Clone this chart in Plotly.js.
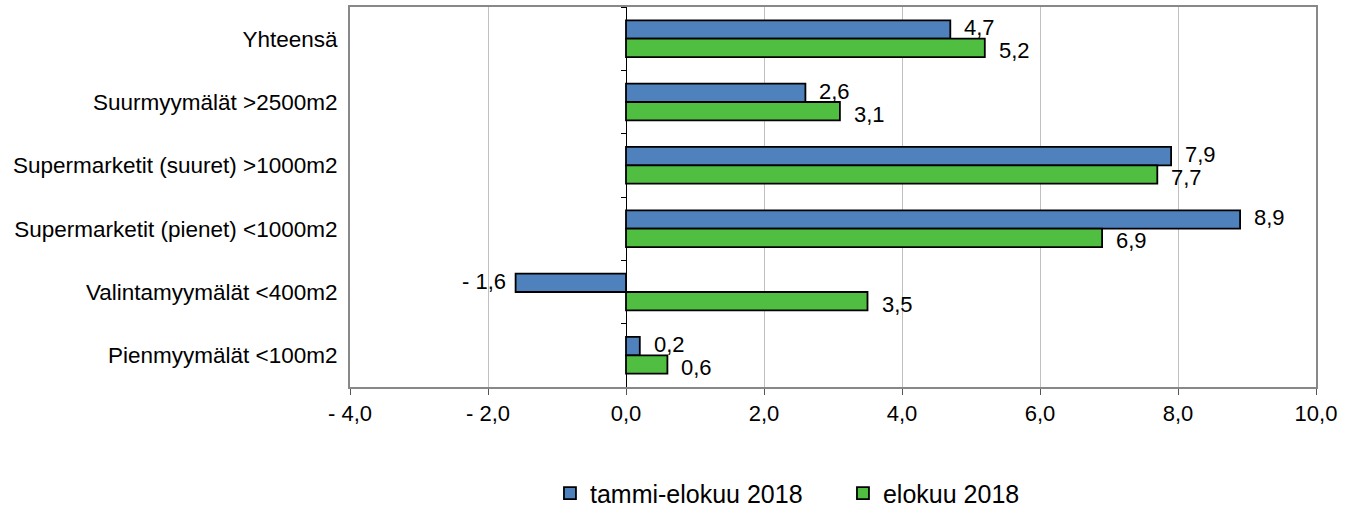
<!DOCTYPE html>
<html>
<head>
<meta charset="utf-8">
<script src="https://cdn.plot.ly/plotly-3.0.1.min.js"></script>
<style>
html,body{margin:0;padding:0;background:#fff;}
#chart{width:1360px;height:523px;}
</style>
</head>
<body>
<div id="chart"></div>
<script>
const categories = [
  'Yhteensä',
  'Suurmyymälät >2500m2',
  'Supermarketit (suuret) >1000m2',
  'Supermarketit (pienet) <1000m2',
  'Valintamyymälät <400m2',
  'Pienmyymälät <100m2'
];
const seriesNames = ['tammi-elokuu 2018', 'elokuu 2018'];
const tammiElokuu = [4.7, 2.6, 7.9, 8.9, -1.6, 0.2];
const elokuu = [5.2, 3.1, 7.7, 6.9, 3.5, 0.6];
const xTickVals = [-4, -2, 0, 2, 4, 6, 8, 10];
const xTickText = ['- 4,0', '- 2,0', '0,0', '2,0', '4,0', '6,0', '8,0', '10,0'];
const xRange = [-4, 10];
const colors = ['#4f81bd', '#50bf41'];

function fmt(v) {
  const s = Math.abs(v).toFixed(1).replace('.', ',');
  return v < 0 ? '- ' + s : s;
}

const FONT = 'Arial, "Liberation Sans", sans-serif';
const seriesValues = [tammiElokuu, elokuu];

const traces = seriesValues.map((vals, i) => ({
  type: 'bar',
  orientation: 'h',
  name: seriesNames[i],
  x: vals,
  y: categories,
  marker: {color: colors[i], line: {color: '#000', width: 1.8}},
  hoverinfo: 'x+y'
}));

// invisible helper trace for the category ticks drawn on the zero line
traces.push({
  type: 'scatter', mode: 'none', x: categories.map(() => 0), y: categories,
  yaxis: 'y2', showlegend: false, hoverinfo: 'skip'
});

const annotations = [];
seriesValues.forEach((vals, i) => {
  vals.forEach((v, j) => {
    annotations.push({
      x: v, y: categories[j], xref: 'x', yref: 'y',
      text: fmt(v), showarrow: false,
      xanchor: v < 0 ? 'right' : 'left',
      xshift: v < 0 ? -8 : 12,
      yshift: i === 0 ? 11 : -12,
      font: {family: FONT, size: 22, color: '#000'}
    });
  });
});

const zeroPos = (0 - xRange[0]) / (xRange[1] - xRange[0]);
const yRange = [categories.length - 0.5, -0.5];

const layout = {
  width: 1360, height: 523,
  margin: {l: 350, r: 44, t: 7, b: 130},
  paper_bgcolor: '#fff', plot_bgcolor: '#fff',
  font: {family: FONT, size: 22, color: '#000'},
  barmode: 'group',
  bargap: 0.42, bargroupgap: 0,
  showlegend: true,
  xaxis: {
    range: xRange, tickvals: xTickVals, ticktext: xTickText,
    showgrid: true, gridcolor: '#c0c0c0', gridwidth: 1,
    zeroline: true, zerolinecolor: '#000', zerolinewidth: 1,
    showline: true, linecolor: '#888', linewidth: 2, mirror: true,
    ticks: 'outside', ticklen: 6, tickcolor: '#555', tickwidth: 1,
    tickfont: {family: FONT, size: 22, color: '#000'},
    fixedrange: true
  },
  yaxis: {
    type: 'category', range: yRange,
    showgrid: false, zeroline: false,
    showline: true, linecolor: '#888', linewidth: 2, mirror: true,
    ticks: '', ticklabelstandoff: 6,
    tickfont: {family: FONT, size: 22.5, color: '#000'},
    fixedrange: true
  },
  yaxis2: {
    type: 'category', range: yRange, overlaying: 'y',
    anchor: 'free', position: zeroPos, side: 'left',
    showticklabels: false, showgrid: false, zeroline: false,
    showline: false, ticks: 'outside', tickson: 'boundaries',
    ticklen: 5, tickcolor: '#000', tickwidth: 1,
    fixedrange: true
  },
  legend: {
    orientation: 'h', x: 0.207, xanchor: 'left', y: -0.28, yanchor: 'middle',
    font: {family: FONT, size: 25, color: '#000'},
    entrywidth: 248, entrywidthmode: 'pixels',
    itemwidth: 30, traceorder: 'normal'
  },
  annotations: annotations
};

Plotly.newPlot('chart', traces, layout, {displayModeBar: false, staticPlot: true});
</script>
</body>
</html>
